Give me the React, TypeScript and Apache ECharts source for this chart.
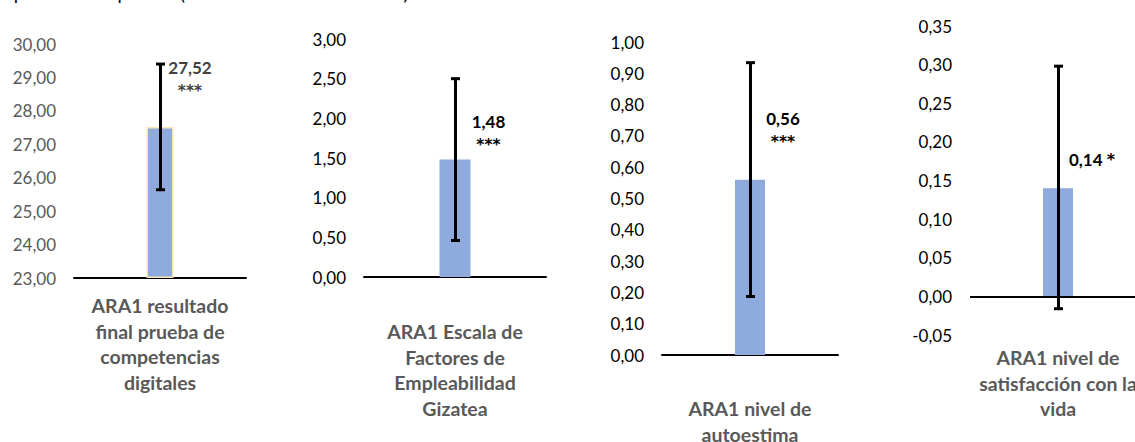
import React, { useEffect, useRef } from 'react';
import * as echarts from 'echarts';

const categories = [
  'ARA1 resultado\nfinal prueba de\ncompetencias\ndigitales',
  'ARA1 Escala de\nFactores de\nEmpleabilidad\nGizatea',
  'ARA1 nivel de\nautoestima',
  'ARA1 nivel de\nsatisfacción con la\nvida',
];
const means = [27.52, 1.48, 0.56, 0.14];
const ciLow = [25.64, 0.46, 0.187, -0.016];
const ciHigh = [29.4, 2.5, 0.934, 0.298];
const significance = ['***', '***', '***', '*'];
const axisMin = [23, 0, 0, -0.05];
const axisMax = [30, 3, 1, 0.35];
const axisStep = [1, 0.5, 0.1, 0.05];
const footnote = '*p < .05     ***p<.001 (intervalo de confianza 95%)';

const FONT = 'Lato, "Noto Sans", sans-serif';

const panels = [
  { left: 74, width: 172, top: 44, bottom: 278, barWidth: 27, catMargin: 15, tickColor: '#595959', valueColor: '#404040', offset: [30, -22], inline: false, border: true, zeroLine: false },
  { left: 364, width: 182, top: 39, bottom: 277, barWidth: 31, catMargin: 42, tickColor: '#000000', valueColor: '#000000', offset: [33.5, -1], inline: false, border: false, zeroLine: false },
  { left: 662, width: 176, top: 42, bottom: 355, barWidth: 30, catMargin: 41, tickColor: '#000000', valueColor: '#000000', offset: [33, -24], inline: false, border: false, zeroLine: false },
  { left: 970, width: 176, top: 26, bottom: 335, barWidth: 30, catMargin: 10, tickColor: '#000000', valueColor: '#000000', offset: [34, -19], inline: true, border: false, zeroLine: true },
];

const fmt = (v: number) => v.toFixed(2).replace('.', ',');

export default function App() {
  const ref = useRef<HTMLDivElement>(null);
  useEffect(() => {
    if (!ref.current) return;
    const chart = echarts.init(ref.current, null, { renderer: 'svg' });
    const grid: any[] = [];
    const xAxis: any[] = [];
    const yAxis: any[] = [];
    const series: any[] = [];
    panels.forEach((p, i) => {
      grid.push({
        left: p.left,
        top: p.top,
        width: p.width,
        height: p.bottom - p.top,
        containLabel: false,
        outerBoundsMode: 'none',
      });
      xAxis.push({
        type: 'category',
        gridIndex: i,
        data: [categories[i]],
        axisTick: { show: false },
        axisLine: { show: !p.zeroLine, onZero: false, lineStyle: { color: '#000', width: 2 } },
        axisLabel: {
          interval: 0,
          margin: p.catMargin,
          color: '#595959',
          fontFamily: FONT,
          fontWeight: 'bold',
          fontSize: 19.5,
          lineHeight: 25.5,
        },
      });
      yAxis.push({
        type: 'value',
        gridIndex: i,
        min: axisMin[i],
        max: axisMax[i],
        interval: axisStep[i],
        startValue: axisMin[i] > 0 ? axisMin[i] : 0,
        splitLine: { show: false },
        axisLine: { show: false },
        axisTick: { show: false },
        axisLabel: {
          margin: 18,
          color: p.tickColor,
          fontFamily: FONT,
          fontSize: 17,
          formatter: (v: number) => fmt(v),
        },
      });
      const labelText = p.inline
        ? `{v|${fmt(means[i])} }{a|${significance[i]}}`
        : `{v|${fmt(means[i])}}\n{s|${significance[i]}}`;
      series.push({
        type: 'bar',
        xAxisIndex: i,
        yAxisIndex: i,
        data: [means[i]],
        barWidth: p.barWidth,
        clip: true,
        itemStyle: {
          color: '#8faadc',
          borderColor: p.border ? '#fbe5b4' : undefined,
          borderWidth: p.border ? 1.5 : 0,
        },
        label: {
          show: true,
          position: 'top',
          distance: 0,
          offset: p.offset,
          formatter: () => labelText,
          align: 'center',
          rich: {
            v: { fontFamily: FONT, fontWeight: 'bold', fontSize: 17, lineHeight: 20, color: p.valueColor },
            s: { fontFamily: '"DejaVu Sans", sans-serif', fontWeight: 'bold', fontSize: 15.5, lineHeight: 27, color: p.valueColor, align: 'center' },
            a: { fontFamily: '"DejaVu Sans", sans-serif', fontWeight: 'bold', fontSize: 16, lineHeight: 19, color: p.valueColor },
          },
        },
        markLine: p.zeroLine
          ? {
              silent: true,
              symbol: 'none',
              label: { show: false },
              lineStyle: { color: '#000', width: 2, type: 'solid' },
              data: [{ yAxis: 0 }],
            }
          : undefined,
      });
      series.push({
        type: 'custom',
        xAxisIndex: i,
        yAxisIndex: i,
        z: 5,
        encode: { x: 0, y: [1, 2] },
        data: [[0, ciLow[i], ciHigh[i]]],
        renderItem: (params: any, api: any) => {
          const lo = api.coord([api.value(0), api.value(1)]);
          const hi = api.coord([api.value(0), api.value(2)]);
          const x = lo[0] + 0.5;
          const cap = 4.5;
          const style = { stroke: '#000', lineWidth: 3 };
          return {
            type: 'group',
            children: [
              { type: 'line', shape: { x1: x, y1: lo[1], x2: x, y2: hi[1] }, style },
              { type: 'line', shape: { x1: x - cap, y1: lo[1], x2: x + cap, y2: lo[1] }, style },
              { type: 'line', shape: { x1: x - cap, y1: hi[1], x2: x + cap, y2: hi[1] }, style },
            ],
          };
        },
      });
    });
    chart.setOption({
      animation: false,
      backgroundColor: '#ffffff',
      grid,
      xAxis,
      yAxis,
      series,
      graphic: [
        {
          type: 'text',
          x: 6,
          y: 2.5,
          style: {
            text: footnote,
            fontFamily: FONT,
            fontSize: 18.5,
            fill: '#000',
            verticalAlign: 'bottom',
          },
        },
      ],
    });
    return () => chart.dispose();
  }, []);
  return (
    <div
      ref={ref}
      style={{ position: 'fixed', left: 0, top: 0, width: 1135, height: 442, background: '#fff' }}
    />
  );
}
